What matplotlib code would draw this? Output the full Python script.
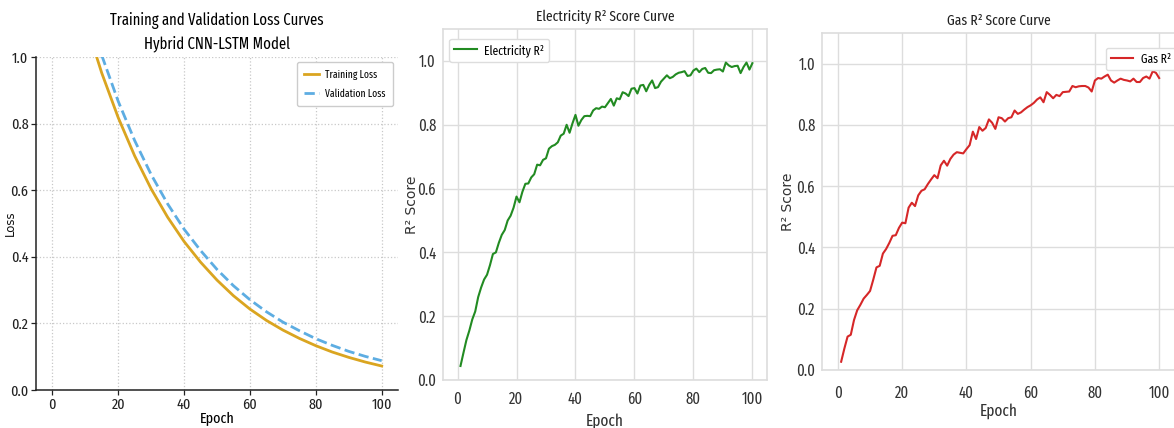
import matplotlib
matplotlib.use("Agg")
import matplotlib.pyplot as plt
import matplotlib.font_manager as fm

# --- Loss curves (panel 1) ---
loss_epochs = [1, 5, 10, 15, 20, 25, 30, 35, 40, 45, 50, 55, 60, 65, 70, 75, 80, 85, 90, 95, 100]
train_loss = [1.455, 1.289, 1.108, 0.952, 0.818, 0.703, 0.604, 0.519, 0.446, 0.384, 0.330,
              0.283, 0.243, 0.209, 0.180, 0.155, 0.133, 0.114, 0.098, 0.084, 0.072]
val_loss = [1.519, 1.350, 1.165, 1.005, 0.867, 0.749, 0.647, 0.559, 0.483, 0.419, 0.362,
            0.313, 0.271, 0.235, 0.204, 0.178, 0.154, 0.134, 0.116, 0.101, 0.088]

# --- R2 curves (panels 2 and 3) ---
epochs = list(range(1, 101))
elec_r2 = [0.044, 0.085, 0.125, 0.155, 0.190, 0.215, 0.260, 0.290, 0.315, 0.330,
           0.360, 0.395, 0.400, 0.430, 0.455, 0.470, 0.500, 0.515, 0.540, 0.575,
           0.557, 0.590, 0.615, 0.616, 0.635, 0.645, 0.675, 0.673, 0.690, 0.695,
           0.725, 0.733, 0.737, 0.745, 0.766, 0.772, 0.800, 0.775, 0.805, 0.831,
           0.797, 0.815, 0.827, 0.828, 0.827, 0.845, 0.852, 0.850, 0.857, 0.855,
           0.868, 0.881, 0.860, 0.883, 0.880, 0.902, 0.898, 0.890, 0.913, 0.915,
           0.898, 0.923, 0.925, 0.905, 0.925, 0.939, 0.915, 0.918, 0.935, 0.945,
           0.955, 0.946, 0.950, 0.958, 0.963, 0.965, 0.968, 0.953, 0.955, 0.970,
           0.976, 0.965, 0.975, 0.978, 0.963, 0.962, 0.971, 0.973, 0.974, 0.967,
           0.995, 0.986, 0.981, 0.984, 0.985, 0.962, 0.981, 0.995, 0.973, 0.993]
gas_r2 = [0.027, 0.070, 0.109, 0.115, 0.163, 0.195, 0.213, 0.233, 0.245, 0.258,
          0.295, 0.335, 0.340, 0.380, 0.395, 0.415, 0.438, 0.440, 0.464, 0.481,
          0.479, 0.530, 0.546, 0.535, 0.570, 0.585, 0.590, 0.607, 0.622, 0.636,
          0.626, 0.668, 0.683, 0.667, 0.689, 0.703, 0.711, 0.709, 0.707, 0.721,
          0.734, 0.778, 0.754, 0.793, 0.781, 0.790, 0.818, 0.807, 0.787, 0.825,
          0.822, 0.811, 0.822, 0.825, 0.847, 0.836, 0.841, 0.850, 0.858, 0.864,
          0.872, 0.883, 0.890, 0.874, 0.907, 0.898, 0.887, 0.898, 0.894, 0.907,
          0.908, 0.909, 0.927, 0.923, 0.926, 0.927, 0.927, 0.922, 0.909, 0.945,
          0.953, 0.951, 0.958, 0.964, 0.945, 0.938, 0.945, 0.951, 0.947, 0.945,
          0.942, 0.951, 0.940, 0.940, 0.953, 0.958, 0.951, 0.975, 0.970, 0.953]

# narrowest regular sans face we can find (the reference text looks squeezed)
STRETCH = {'ultra-condensed': 100, 'extra-condensed': 200, 'condensed': 300,
           'semi-condensed': 400, 'normal': 500}


def stretch_val(f):
    st = f.stretch
    return STRETCH.get(st, 500) if isinstance(st, str) else st


def is_narrow(f):
    narrow_name = 'Narrow' in f.name or 'Condensed' in f.name
    return (narrow_name or stretch_val(f) < 500) and f.style == 'normal' \
        and f.weight in (400, 'normal', 'regular', 'book')


def rank(f):
    s = stretch_val(f)
    if 'ExtraCondensed' in f.name or 'Extra Condensed' in f.name:
        s = 200
    elif 'SemiCondensed' in f.name or 'Semi Condensed' in f.name:
        s = 400
    elif 'Condensed' in f.name or 'Narrow' in f.name:
        s = min(s, 300)
    # extra-condensed is closest to the reference, then condensed
    order = {200: 0, 300: 1, 100: 2, 400: 3}
    return order.get(s, 4)


cands = [f for f in fm.fontManager.ttflist if is_narrow(f)]
cands.sort(key=rank)
if cands:
    NARROW = fm.FontProperties(fname=cands[0].fname)
else:
    NARROW = fm.FontProperties(family='Liberation Sans')


def fp(size):
    p = NARROW.copy()
    p.set_size(size)
    return p


fig = plt.figure(figsize=(11.74, 4.28), dpi=100)

# ---------- Panel 1: loss ----------
ax1 = fig.add_axes([0.0307, 0.0888, 0.3083, 0.778])
ax1.plot(loss_epochs, train_loss, color='#DAA520', linewidth=2, label='Training Loss')
ax1.plot(loss_epochs, val_loss, color='#5DADE2', linewidth=2, linestyle='--', label='Validation Loss')
ax1.set_ylim(0, 1.0)
ax1.set_xlim(-4.95, 104.95)
ax1.grid(True, linestyle=':', color='#c8c8c8', linewidth=0.9)
for s in ['top', 'right']:
    ax1.spines[s].set_visible(False)
for s in ['left', 'bottom']:
    ax1.spines[s].set_color('#222222')
    ax1.spines[s].set_linewidth(1.1)
ax1.tick_params(length=3.5, width=0.9, colors='#222222', pad=2)
for lab in ax1.get_xticklabels() + ax1.get_yticklabels():
    lab.set_fontproperties(fp(11))
ax1.set_xlabel('Epoch', fontproperties=fp(11), labelpad=0)
ax1.set_ylabel('Loss', fontsize=8.5, color='#111111')
ax1.yaxis.set_label_coords(-0.052, 0.5)
ax1.set_title('Training and Validation Loss Curves\nHybrid CNN-LSTM Model',
              fontproperties=fp(11.5), pad=6, linespacing=1.5)
ax1.legend(loc='upper right', prop=fp(7.5), handlelength=1.4, borderpad=0.7,
           labelspacing=0.8, handletextpad=0.6, fancybox=True, framealpha=1,
           edgecolor='#cccccc')


def r2_panel(rect, y, color, title, label, tickpad, **legkw):
    ax = fig.add_axes(rect)
    ax.set_facecolor('white')
    ax.plot(epochs, y, color=color, linewidth=1.5, label=label)
    ax.set_ylim(0, 1.1)
    ax.set_yticks([0.0, 0.2, 0.4, 0.6, 0.8, 1.0])
    ax.set_xlim(-4.95, 104.95)
    ax.grid(True, color='#dddddd', linewidth=1)
    ax.set_axisbelow(True)
    for s in ax.spines.values():
        s.set_color('#dddddd')
        s.set_linewidth(1.2)
    ax.tick_params(length=0, colors='#333333')
    ax.tick_params(axis='x', pad=tickpad)
    ax.tick_params(axis='y', pad=5)
    for lab in ax.get_xticklabels() + ax.get_yticklabels():
        lab.set_fontproperties(fp(11.5))
    ax.set_xlabel('Epoch', fontproperties=fp(12), color='#333333', labelpad=1)
    ax.set_ylabel('R² Score', fontsize=10, color='#333333')
    ax.set_title(title, fontproperties=fp(10.5), color='#222222', pad=6)
    ax.legend(prop=fp(9), handlelength=1.8, handletextpad=0.6,
              fancybox=True, framealpha=1, edgecolor='#dddddd', **legkw)
    return ax


ax2 = r2_panel([0.3773, 0.1121, 0.276, 0.820], elec_r2, '#228B22',
               'Electricity R² Score Curve', 'Electricity R²', 8,
               loc='upper left', bbox_to_anchor=(0.0, 0.99))
ax2.yaxis.set_label_coords(-0.074, 0.5)
ax2.xaxis.labelpad = 4
ax3 = r2_panel([0.7002, 0.1355, 0.3007, 0.7874], gas_r2, '#D62728',
               'Gas R² Score Curve', 'Gas R²', 11,
               loc='upper right', bbox_to_anchor=(1.02, 0.975))
ax3.yaxis.set_label_coords(-0.077, 0.5)

fig.savefig('out.png', dpi=100, facecolor='white')
